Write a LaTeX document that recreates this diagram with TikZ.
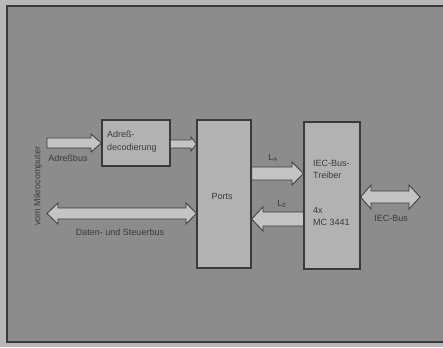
\documentclass[tikz,border=0pt]{standalone}
\usepackage{fontspec}
\setmainfont{Liberation Sans}
\usetikzlibrary{shapes.arrows,arrows.meta}
\definecolor{bg}{HTML}{8C8C8C}
\definecolor{outer}{HTML}{B8B8B8}
\definecolor{boxfill}{HTML}{B2B2B2}
\definecolor{ink}{HTML}{3A3A3A}
\definecolor{arrfill}{HTML}{C4C4C4}
\tikzset{
  blk/.style={draw=ink, line width=1.2pt, fill=boxfill},
  lbl/.style={font=\fontsize{9}{12.5}\selectfont, text=ink, inner sep=0pt},
  fat/.style={draw=ink, line width=0.8pt, fill=arrfill},
}
\begin{document}
\begin{tikzpicture}[x=1pt,y=-1pt]
\useasboundingbox (0,0) rectangle (443,347);
\fill[outer] (0,0) rectangle (443,347);
\draw[ink, line width=2pt, fill=bg] (443,6) -- (7,6) -- (7,342) -- (443,342);
% boxes
\node[blk, minimum width=68pt, minimum height=46pt, inner sep=0pt] (dec) at (136,143) {};
\node[blk, minimum width=54pt, minimum height=148pt, inner sep=0pt] (ports) at (224,194) {};
\node[blk, minimum width=56pt, minimum height=147pt, inner sep=0pt] (iec) at (332,195.5) {};
% texts
\node[lbl, align=left, anchor=north west] (dect) at (107,131) {Adreß-\\decodierung};
\node[lbl] (portst) at (222,196) {Ports};
\node[lbl, align=left, anchor=north west] (iect1) at (313,160) {IEC-Bus-\\Treiber};
\node[lbl, align=left, anchor=north west] (iect2) at (313,207) {4x\\MC 3441};
% Adressbus arrow
\draw[fat] (47,138) -- (91,138) -- (91,134) -- (dec.west |- 0,143) -- (91,152) -- (91,148) -- (47,148) -- cycle;
\node[lbl] (abl) at (68,158) {Adreßbus};
% decoder to ports
\draw[fat, line width=0.7pt] (dec.east |- 0,140) -- (191,140) -- (191,137) -- (ports.west |- 0,144) -- (191,151) -- (191,148) -- (dec.east |- 0,148) -- cycle;
% Daten- und Steuerbus
\draw[fat] (58,208) -- (186,208) -- (186,203) -- (ports.west |- 0,213.5) -- (186,224) -- (186,219) -- (58,219) -- (58,224) -- (47,213.5) -- (58,203) -- cycle;
\node[lbl] (dsl) at (120,232) {Daten- und Steuerbus};
% L_A
\draw[fat] (ports.east |- 0,167) -- (292,167) -- (292,162) -- (iec.west |- 0,173.5) -- (292,185) -- (292,180) -- (ports.east |- 0,180) -- cycle;
\node[lbl] (la) at (273,158) {L\textsubscript{A}};
% L_E
\draw[fat] (iec.west |- 0,212) -- (263,212) -- (263,207) -- (ports.east |- 0,219) -- (263,231) -- (263,226) -- (iec.west |- 0,226) -- cycle;
\node[lbl] (le) at (282,204) {L\textsubscript{E}};
% IEC-Bus
\draw[fat] (371,191) -- (371,185) -- (iec.east |- 0,197) -- (371,209) -- (371,203) -- (409,203) -- (409,209) -- (420,197) -- (409,185) -- (409,191) -- cycle;
\node[lbl] (iecl) at (391,218) {IEC-Bus};
% vertical label
\node[lbl, rotate=90] (vom) at (38,186) {vom Mikrocomputer};
\end{tikzpicture}
\end{document}
